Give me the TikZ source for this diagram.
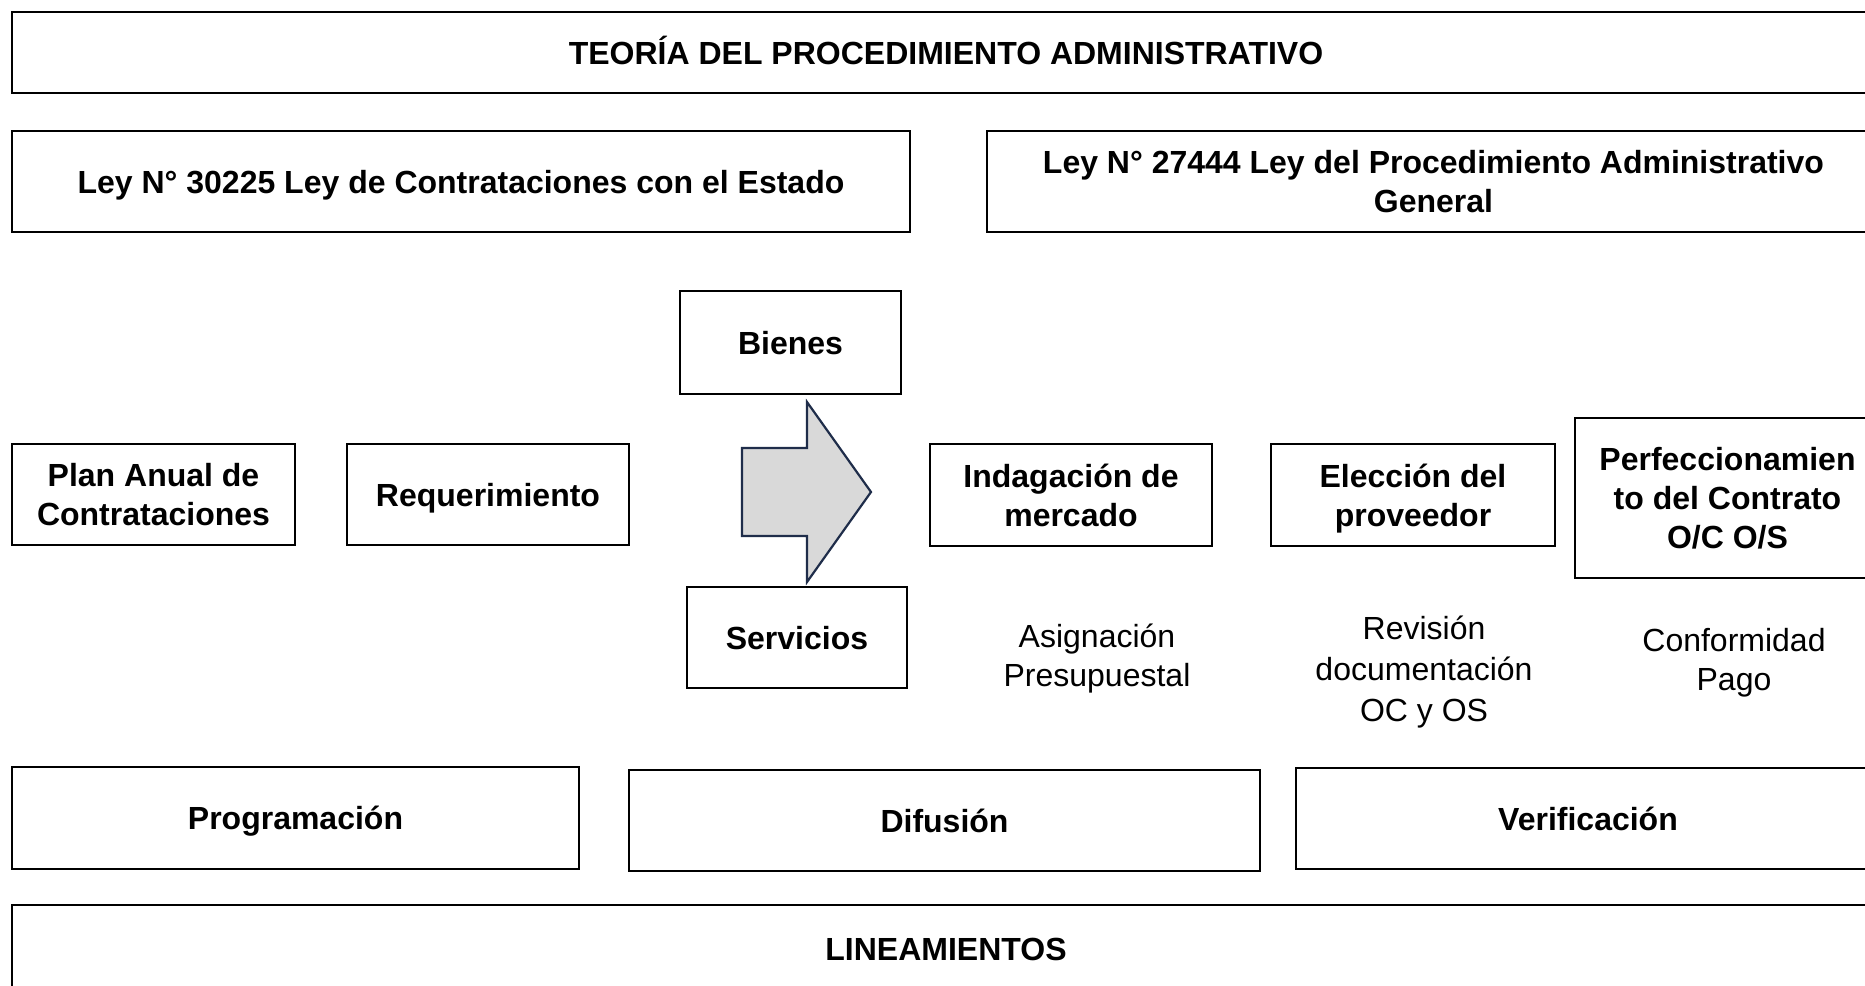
\documentclass[tikz,border=0pt]{standalone}
\usepackage{fontspec}
\setmainfont{Liberation Sans}
\definecolor{arrowfill}{HTML}{D9D9D9}
\definecolor{arrowline}{HTML}{1F2D4A}
\tikzset{
  px/.style={x=0.5pt,y=-0.5pt},
  box/.style={draw=black,line width=0.7pt,rectangle,inner sep=0pt,align=center,
    font=\fontsize{16}{19.5}\selectfont\bfseries},
  oneline/.style={text height=11.7pt,text depth=0pt},
  plain/.style={inner sep=0pt,align=center,font=\fontsize{16}{19.5}\selectfont},
  bigarrow/.style={draw=arrowline,fill=arrowfill,line width=1.1pt,line join=miter}
}
\newcommand{\bx}[7]{% name, cx, cy, w, h, text, options
  \node[box,minimum width=#4*0.5pt,minimum height=#5*0.5pt,#7] (#1) at (#2,#3) {#6};}
\newcommand{\nodp}[1]{\raisebox{0pt}[\height][0pt]{#1}}
\begin{document}
\begin{tikzpicture}[px]
\useasboundingbox (0,0) rectangle (1865,986);
\clip (0,0) rectangle (1865,986);
\bx{top}{946}{52.5}{1868}{81}{TEORÍA DEL PROCEDIMIENTO ADMINISTRATIVO}{oneline}
\bx{leya}{461}{181.5}{898}{101}{Ley N° 30225 Ley de Contrataciones con el Estado}{oneline}
\bx{leyb}{1433.5}{181.5}{893}{101}{Ley N° 27444 Ley del Procedimiento Administrativo\\General}{}
\bx{bienes}{790.5}{342.5}{221}{103}{Bienes}{oneline}
\bx{plan}{153.5}{494.5}{283}{101}{Plan Anual de\\Contrataciones}{}
\bx{req}{488}{494.5}{282}{101}{Requerimiento}{oneline}
\bx{indag}{1071}{495}{282}{102}{Indagación de\\mercado}{}
\bx{elec}{1413}{495}{284}{102}{Elección del\\\nodp{proveedor}}{}
\bx{perf}{1727.5}{498}{305}{160}{Perfeccionamien\\to del Contrato\\O/C O/S}{}
\bx{serv}{797}{637.5}{220}{101}{Servicios}{oneline}
\bx{prog}{295.5}{818}{567}{102}{Programación}{oneline}
\bx{dif}{944.5}{820.5}{631}{101}{Difusión}{oneline}
\bx{verif}{1588}{818.5}{584}{101}{Verificación}{oneline}
\bx{lin}{946}{948.5}{1868}{87}{LINEAMIENTOS}{oneline}
\node[plain] (asig) at (1097,659) {Asignación\\Presupuestal};
\node[plain,font=\fontsize{16}{20.5}\selectfont] (revis) at (1424,672) {Revisión\\documentación\\OC y OS};
\node[plain] (conf) at (1734,663) {Conformidad\\Pago};
\draw[bigarrow] (742,448) -- (807,448) -- (807,402) -- (871,492) -- (807,582) -- (807,536) -- (742,536) -- cycle;
\end{tikzpicture}
\end{document}
